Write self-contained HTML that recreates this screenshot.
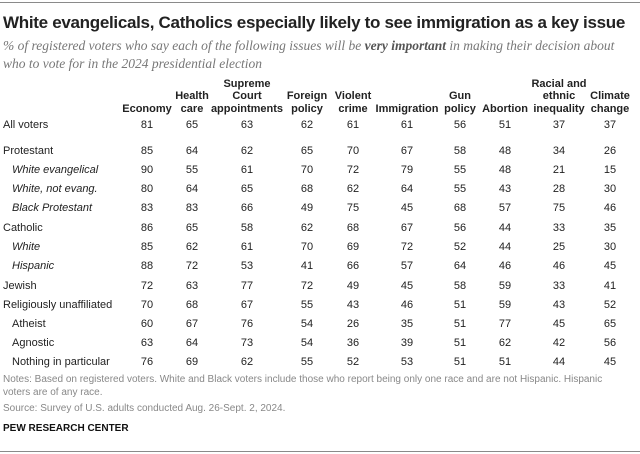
<!DOCTYPE html>
<html><head><meta charset="utf-8"><style>
body{margin:0;width:640px;height:454px;background:#fff;position:relative;overflow:hidden;font-family:"Liberation Sans",Arial,sans-serif;color:#222}
.a{position:absolute;white-space:nowrap}
.rule{position:absolute;left:0;width:640px;height:1px;background:#8a8a8a}
.t{left:3px;top:13px;font-size:17px;font-weight:bold;letter-spacing:-0.3px}
.s{left:3px;font-family:"Liberation Serif",serif;font-style:italic;font-size:13.5px;color:#777}
.h{font-size:11px;font-weight:bold;text-align:center;line-height:12.5px;transform:translateX(-50%)}
.c{font-size:11px;transform:translateX(-50%);text-align:center}
.l{font-size:11px}
.n{font-size:10px;color:#888;left:3px}
</style></head><body>
<div class="rule" style="top:2px"></div>
<div class="a t">White evangelicals, Catholics especially likely to see immigration as a key issue</div>
<div class="a s" style="top:38px">% of registered voters who say each of the following issues will be <b style="color:#555">very important</b> in making their decision about</div>
<div class="a s" style="top:56px">who to vote for in the 2024 presidential election</div>
<div id="tbl"></div>
<div class="a n" style="top:374px">Notes: Based on registered voters. White and Black voters include those who report being only one race and are not Hispanic. Hispanic</div>
<div class="a n" style="top:387px">voters are of any race.</div>
<div class="a n" style="top:403px">Source: Survey of U.S. adults conducted Aug. 26-Sept. 2, 2024.</div>
<div class="a" style="left:3px;top:423px;font-size:10px;font-weight:bold;color:#111">PEW RESEARCH CENTER</div>
<div class="rule" style="top:451px"></div>
<script>
const headers=[["Economy"],["Health","care"],["Supreme","Court","appointments"],["Foreign","policy"],["Violent","crime"],["Immigration"],["Gun","policy"],["Abortion"],["Racial and","ethnic","inequality"],["Climate","change"]];
const rowLabels=["All voters","Protestant","White evangelical","White, not evang.","Black Protestant","Catholic","White","Hispanic","Jewish","Religiously unaffiliated","Atheist","Agnostic","Nothing in particular"];
const rowItalic=[0,0,1,1,1,0,1,1,0,0,0,0,0];
const rowIndent=[0,0,1,1,1,0,1,1,0,0,1,1,1];
const values=[
[81,65,63,62,61,61,56,51,37,37],
[85,64,62,65,70,67,58,48,34,26],
[90,55,61,70,72,79,55,48,21,15],
[80,64,65,68,62,64,55,43,28,30],
[83,83,66,49,75,45,68,57,75,46],
[86,65,58,62,68,67,56,44,33,35],
[85,62,61,70,69,72,52,44,25,30],
[88,72,53,41,66,57,64,46,46,45],
[72,63,77,72,49,45,58,59,33,41],
[70,68,67,55,43,46,51,59,43,52],
[60,67,76,54,26,35,51,77,45,65],
[63,64,73,54,36,39,51,62,42,56],
[76,69,62,55,52,53,51,51,44,45]];
const colX=[147,192,247,307,353,407,460,505,559,610];
const rowY=[119,145,164,183,202,222,241,260,280,299,318,337,356];
const tbl=document.getElementById('tbl');
headers.forEach((h,i)=>{
 const d=document.createElement('div');
 d.className='a h';
 
 
 d.style.left=colX[i]+'px';
 d.style.top=(115-h.length*12.5)+'px';
 d.innerHTML=h.join('<br>');
 tbl.appendChild(d);
});
rowLabels.forEach((r,j)=>{
 const d=document.createElement('div');
 d.className='a l';
 
 
 d.style.left=(rowIndent[j]?12:3)+'px';
 d.style.top=rowY[j]+'px';
 if(rowItalic[j])d.style.fontStyle='italic';
 d.textContent=r;
 tbl.appendChild(d);
 values[j].forEach((v,i)=>{
  const c=document.createElement('div');
  c.className='a c';
  
  
  c.style.left=colX[i]+'px';
  c.style.top=rowY[j]+'px';
  c.textContent=v;
  tbl.appendChild(c);
 });
});
</script>
</body></html>
